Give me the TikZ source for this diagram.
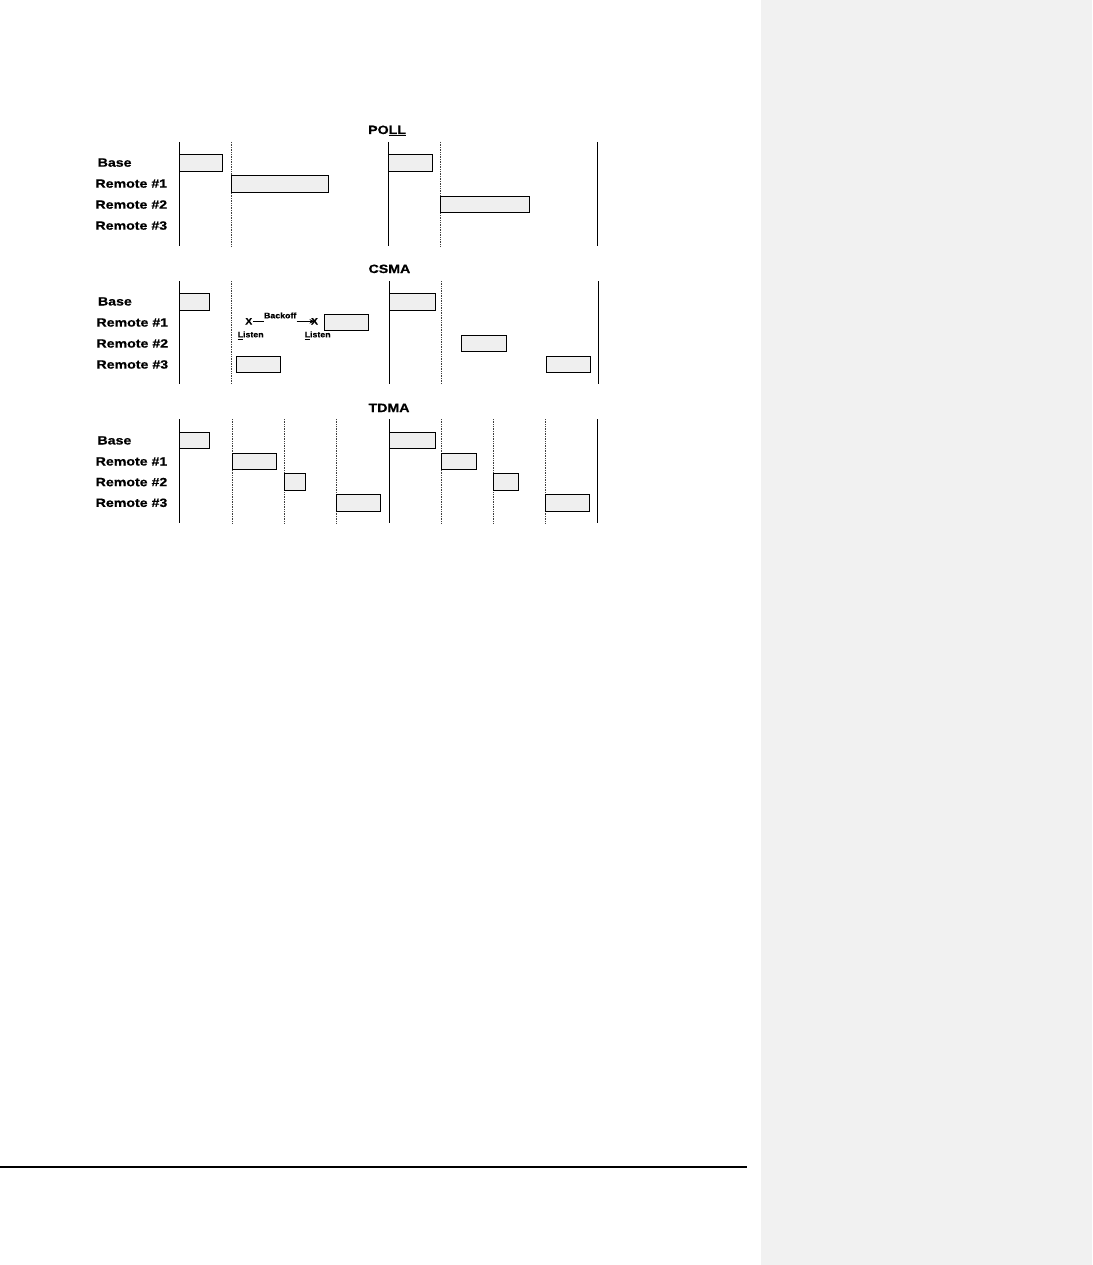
\documentclass[tikz,border=0pt]{standalone}
\usepackage{fontspec}
\newfontfamily\lblfont[FakeStretch=1.18,FakeBold=0.5]{Liberation Sans}
\newfontfamily\smlfont[FakeStretch=1.1,FakeBold=0.3]{Liberation Sans}
\usetikzlibrary{arrows.meta}
\definecolor{boxgray}{HTML}{EFEFEF}
\definecolor{panelgray}{HTML}{F1F1F1}
\begin{document}
\begin{tikzpicture}[x=1pt,y=-1pt,
  solidln/.style={line width=1.1pt,black},
  dotln/.style={line width=0.8pt,black!75,dash pattern=on 0.8pt off 0.9pt},
  slot/.style={draw=black,line width=0.9pt,fill=boxgray},
  lbl/.style={font=\lblfont\bfseries\fontsize{12}{14}\selectfont,anchor=base west,inner sep=0pt},
  sml/.style={font=\smlfont\bfseries\fontsize{8}{9}\selectfont,inner sep=0pt},
  xmk/.style={font=\smlfont\bfseries\fontsize{9.5}{10}\selectfont,inner sep=0.3pt}]
\useasboundingbox (0,0) rectangle (1092,1265);
\fill[white] (0,0) rectangle (1092,1265);
\fill[panelgray] (761,0) rectangle (1092,1265);
\draw[line width=2pt] (0,1166.7) -- (747,1166.7);

% ---------------- POLL ----------------
\node[lbl] (tpoll) at (368,134) {PO\underline{LL}};
\node[lbl] (pbase) at (97.5,166.7) {Base};
\node[lbl] (pr1) at (95.3,187.7) {Remote \#1};
\node[lbl] (pr2) at (95.3,208.7) {Remote \#2};
\node[lbl] (pr3) at (95.3,229.7) {Remote \#3};
\foreach \x in {179.3,388.8,597.5} \draw[solidln] (\x,142) -- (\x,246.5);
\foreach \x in {231.3,440.3} \draw[dotln] (\x,142) -- (\x,246.5);
\draw[slot] (179.3,154.2) rectangle (222.6,171.5);
\draw[slot] (231.3,175.2) rectangle (328.3,192.3);
\draw[slot] (388.8,154.2) rectangle (432.6,171.5);
\draw[slot] (440.3,196.2) rectangle (529,212.5);

% ---------------- CSMA ----------------
\node[lbl] (tcsma) at (368.4,273) {CSMA};
\node[lbl] (cbase) at (97.8,305.5) {Base};
\node[lbl] (cr1) at (96.3,326.6) {Remote \#1};
\node[lbl] (cr2) at (96.3,347.6) {Remote \#2};
\node[lbl] (cr3) at (96.3,368.6) {Remote \#3};
\foreach \x in {179.8,389.5,598.3} \draw[solidln] (\x,281) -- (\x,384.3);
\foreach \x in {231.8,441} \draw[dotln] (\x,281) -- (\x,384.3);
\draw[slot] (179.8,293.3) rectangle (209.4,310.3);
\draw[slot] (389.5,293.3) rectangle (435.1,310.3);
\draw[slot] (324.3,314.3) rectangle (368.4,330.5);
\draw[slot] (461,335.3) rectangle (506.5,351.3);
\draw[slot] (236.4,356.3) rectangle (280.5,372.3);
\draw[slot] (546.3,356.3) rectangle (590.3,372.3);
% backoff
\node[xmk] (xa) at (248.8,321.3) {X};
\node[xmk] (xb) at (314.5,321.3) {X};
\node[sml,anchor=base] (boff) at (280.2,318.3) {Backoff};
\draw[line width=0.8pt] (xa.east) -- (boff.west |- xa);
\draw[line width=0.8pt,-{Stealth[length=5pt,width=4.5pt]}] (boff.east |- xb) -- (xb.center);
\node[sml,anchor=base west] (lsa) at (237.5,337.3) {\underline{L}isten};
\node[sml,anchor=base west] (lsb) at (304.5,337.3) {\underline{L}isten};

% ---------------- TDMA ----------------
\node[lbl] (ttdma) at (368.4,412) {TDMA};
\node[lbl] (tbase) at (97.3,444.5) {Base};
\node[lbl] (tr1) at (95.5,465.5) {Remote \#1};
\node[lbl] (tr2) at (95.5,486.2) {Remote \#2};
\node[lbl] (tr3) at (95.5,506.9) {Remote \#3};
\foreach \x in {179.3,389.3,597.8} \draw[solidln] (\x,419) -- (\x,523.3);
\foreach \x in {232.3,284.3,336,441,493,545} \draw[dotln] (\x,419) -- (\x,523.3);
\draw[slot] (179.3,432.3) rectangle (209.7,448.3);
\draw[slot] (389.3,432.3) rectangle (435,448.3);
\draw[slot] (232.3,453.3) rectangle (276.3,469.3);
\draw[slot] (441,453.3) rectangle (476,469.3);
\draw[slot] (284.3,473.5) rectangle (305.3,490.3);
\draw[slot] (493,473.5) rectangle (518,490.3);
\draw[slot] (336,494.3) rectangle (380,511);
\draw[slot] (545,494.3) rectangle (589,511);
\end{tikzpicture}
\end{document}
